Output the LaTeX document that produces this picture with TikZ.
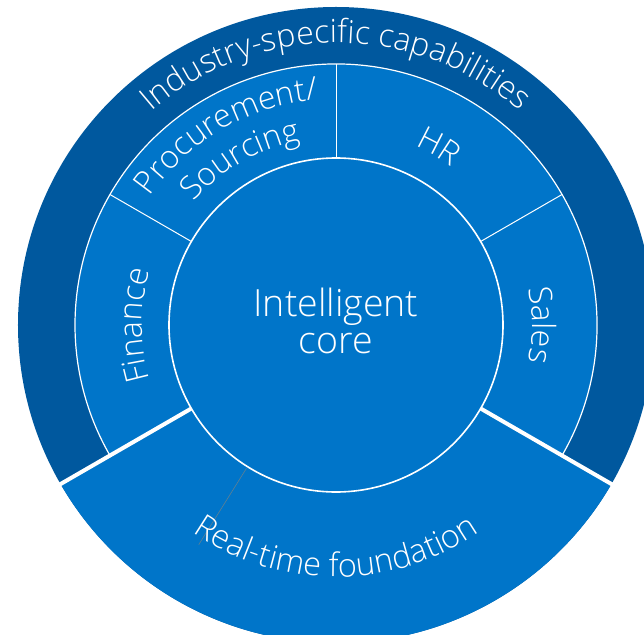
\documentclass[tikz,border=0pt]{standalone}
\usepackage{fontspec}
\IfFontExistsTF{Open Sans Light}{\setmainfont{Open Sans Light}}{%
  \IfFontExistsTF{Lato Light}{\setmainfont{Lato Light}}{\setmainfont{Fira Sans}}}
\usepackage{tikz}
\usetikzlibrary{decorations.text}
\definecolor{ringblue}{RGB}{0,117,201}
\definecolor{bandblue}{RGB}{0,88,158}
\definecolor{faintgray}{RGB}{96,128,146}
\newcommand{\labfont}{\color{white}\fontsize{32}{32}\selectfont}
\newcommand{\bandfont}{\color{white}\fontsize{32}{32}\selectfont}
\newcommand{\basefont}{\color{white}\fontsize{32.5}{32.5}\selectfont}

\begin{document}
\begin{tikzpicture}[x=1pt,y=1pt,
  thinsep/.style={white,line width=1pt},
  thicksep/.style={white,line width=4pt},
  curvelabel/.style={decorate,decoration={text along path,text align=center,text={#1}}}]
\useasboundingbox (-336,-309) rectangle (308,325);
\clip (-336,-309) rectangle (308,325);
\fill [bandblue] (0,0) circle [radius=318pt];
\fill [ringblue] (0,0) circle [radius=261pt];
\fill [ringblue] (0,0)--(210:318pt) arc [start angle=210,end angle=330,radius=318pt]--cycle;
\draw [white,line width=1.2pt] (330:261pt) arc [start angle=-30,end angle=210,radius=261pt];
\draw [thinsep] (90:167pt)--(90:261pt);
\draw [thinsep] (150:167pt)--(150:261pt);
\draw [thinsep] (30:167pt)--(30:261pt);
\draw [thicksep] (210:167pt)--(210:330pt);
\draw [thicksep] (330:167pt)--(330:330pt);
\draw [faintgray,line width=0.6pt] (238:169pt)--(238:259pt);
\draw [white,line width=1.6pt] (0,0) circle [radius=167pt];
\node [white,align=center,font=\fontsize{37.5}{37}\selectfont] (core) at (0,4) {Intelligent\\core};
% labels along the rings:
\path [curvelabel={|\bandfont|Industry-specific capabilities}] (150:282pt) arc [start angle=150,end angle=30,radius=282pt];
\path [curvelabel={|\labfont|Procurement/}] (150:226pt) arc [start angle=150,end angle=90,radius=226pt];
\path [curvelabel={|\labfont|Sourcing}] (150:188pt) arc [start angle=150,end angle=90,radius=188pt];
\path [curvelabel={|\labfont|HR}] (90:196pt) arc [start angle=90,end angle=30,radius=196pt];
\path [curvelabel={|\labfont|Sales}] (30:196pt) arc [start angle=30,end angle=-30,radius=196pt];
\path [curvelabel={|\labfont|Finance}] (210:194pt) arc [start angle=210,end angle=150,radius=194pt];
\path [curvelabel={|\basefont|Real-time foundation}] (210:252pt) arc [start angle=210,end angle=330,radius=252pt];
\end{tikzpicture}
\end{document}
